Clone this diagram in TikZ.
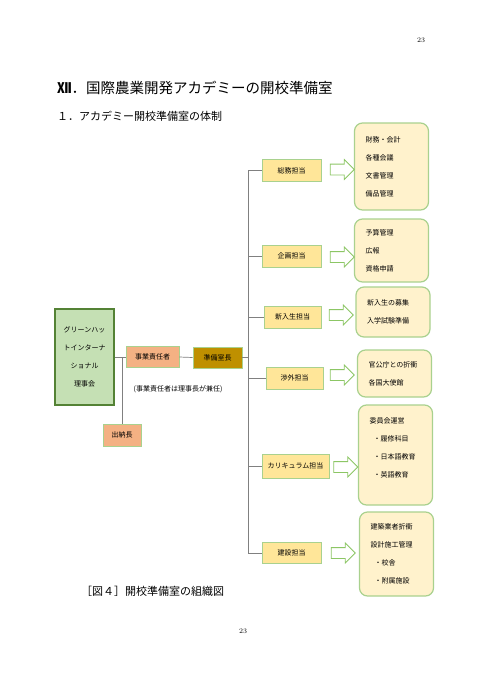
\documentclass[tikz,border=0pt]{standalone}
\usepackage{fontspec}
\newfontfamily\jp{Noto Sans CJK JP}
\usepackage{tikz}
\usetikzlibrary{shapes.arrows, positioning, calc}
\definecolor{mygreen}{RGB}{84,130,53}
\definecolor{mylight}{RGB}{169,209,142}
\definecolor{myarrow}{RGB}{140,198,101}
\definecolor{mygray}{RGB}{128,128,128}
\definecolor{hdrgreen}{RGB}{197,224,180}
\definecolor{hdrsalmon}{RGB}{244,177,131}
\definecolor{hdrgold}{RGB}{191,144,0}
\definecolor{hdryellow}{RGB}{255,230,153}
\definecolor{hdrcream}{RGB}{255,242,204}
\tikzset{
  boardbox/.style={rectangle, draw=mygreen, fill=hdrgreen,
    minimum width=59pt, minimum height=96pt, align=center,
    font=\jp\fontsize{7}{18}\selectfont, line width=2pt},
  chiefbox/.style={rectangle, draw=mylight, fill=hdrsalmon,
    minimum height=21pt, inner xsep=0pt,
    font=\jp\fontsize{7}{9}\selectfont, line width=0.8pt},
  headbox/.style={chiefbox, fill=hdrgold},
  deptbox/.style={rectangle, draw=mylight, fill=hdryellow,
    minimum width=59pt, minimum height=22pt, inner xsep=0pt,
    font=\jp\fontsize{7}{9}\selectfont, line width=0.8pt},
  listbox/.style={rectangle, draw=mylight, fill=hdrcream,
    text width=52pt, inner xsep=11pt, align=left,
    font=\jp\fontsize{7}{18}\selectfont, rounded corners=8pt, line width=1.2pt},
  hollow/.style={single arrow, draw=myarrow, fill=white,
    minimum height=24pt, inner xsep=0pt, inner ysep=5pt,
    single arrow head extend=4.5pt, line width=0.8pt},
  line/.style={draw=mygray, line width=0.7pt}
}
\begin{document}
\begin{tikzpicture}[x=1pt, y=-1pt]
  \useasboundingbox (0,0) rectangle (486,688);
  % Page numbers and headings
  \node[font=\fontsize{7}{8}\selectfont] (pagetop) at (421,40) {23};
  \node[font=\fontsize{7}{8}\selectfont] (pagebottom) at (243,631) {23};
  \node[anchor=west, inner sep=0pt, font=\jp\fontsize{14.5}{16}\selectfont] (title) at (57,88)
    {\textbf{Ⅻ}．国際農業開発アカデミーの開校準備室};
  \node[anchor=west, inner sep=0pt, font=\jp\fontsize{11}{13}\selectfont] (subtitle) at (57,116)
    {１．アカデミー開校準備室の体制};
  \node[anchor=west, inner sep=0pt, font=\jp\fontsize{11}{13}\selectfont] (caption) at (81,591)
    {［図４］開校準備室の組織図};
  % Board and chiefs
  \node[boardbox] (board) at (84.5,357) {グリーンハッ\\トインターナ\\ショナル\\理事会};
  \node[chiefbox, minimum width=53pt] (jigyo) at (152.5,357) {事業責任者};
  \node[headbox, minimum width=49pt] (shitsucho) at (217.5,357.5) {準備室長};
  \node[chiefbox, minimum width=38pt, minimum height=22pt] (suitou) at (122,435) {出納長};
  \node[font=\jp\fontsize{7}{9}\selectfont] (note) at (178,389) {(事業責任者は理事長が兼任)};
  \coordinate (kink) at (suitou.north |- board.east);
  \draw[line] (board.east) -- (jigyo.west);
  \draw[line] (kink) -- (suitou.north);
  \draw[line] (jigyo.east) -- (shitsucho.west);
  % Departments
  \node[deptbox] (soumu) at (291.5,170.5) {総務担当};
  \node[deptbox] (kikaku) at (291.5,256) {企画担当};
  \node[deptbox, minimum width=57pt] (shinnyu) at (292.5,317) {新入生担当};
  \node[deptbox, minimum width=57pt] (shougai) at (294.5,378) {渉外担当};
  \node[deptbox, minimum width=67pt, minimum height=24pt] (curri) at (295.5,466) {カリキュラム担当};
  \node[deptbox, minimum height=21pt] (kensetsu) at (291.5,553) {建設担当};
  % Bus line
  \coordinate (bus) at (248,357);
  \draw[line] (shitsucho.east) -- (bus |- shitsucho.east);
  \draw[line] (bus |- soumu.west) -- (bus |- kensetsu.west);
  \draw[line] (bus |- soumu.west) -- (soumu.west);
  \draw[line] (bus |- kikaku.west) -- (kikaku.west);
  \draw[line] (bus |- shinnyu.west) -- (shinnyu.west);
  \draw[line] (bus |- shougai.west) -- (shougai.west);
  \draw[line] (bus |- curri.west) -- (curri.west);
  \draw[line] (bus |- kensetsu.west) -- (kensetsu.west);
  % Duties
  \node[listbox, minimum height=87pt] (soumulist) at (391.5,166.5)
    {財務・会計\\各種会議\\文書管理\\備品管理};
  \node[listbox, minimum height=63pt] (kikakulist) at (391.5,250.5)
    {予算管理\\広報\\資格申請};
  \node[listbox, minimum height=50pt] (shinnyulist) at (393,312)
    {新入生の募集\\入学試験準備};
  \node[listbox, minimum height=47pt] (shougailist) at (394.5,373.5)
    {官公庁との折衝\\各国大使館};
  \node[listbox, minimum height=100pt, text depth=68pt] (currilist) at (395.5,455)
    {委員会運営\\\hspace*{4pt}・履修科目\\\hspace*{4pt}・日本語教育\\\hspace*{4pt}・英語教育};
  \node[listbox, minimum height=84pt] (kensetsulist) at (396.5,554)
    {建築業者折衝\\設計施工管理\\\hspace*{4pt}・校舎\\\hspace*{4pt}・附属施設};
  % Hollow arrows
  \node[hollow] (soumuarrow) at (339.5,169.5) {};
  \node[hollow] (kikakuarrow) at (339.5,257) {};
  \node[hollow] (shinnyuarrow) at (338.5,315) {};
  \node[hollow] (shougaiarrow) at (339.5,375) {};
  \node[hollow] (curriarrow) at (343,467) {};
  \node[hollow] (kensetsuarrow) at (340.5,553) {};
\end{tikzpicture}
\end{document}
